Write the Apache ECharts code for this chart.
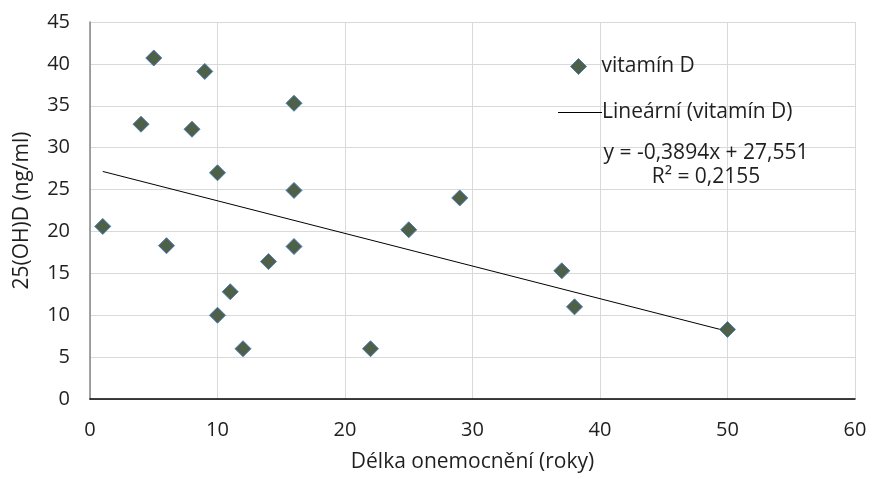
<!DOCTYPE html>
<html><head><meta charset="utf-8">
<script src="https://cdn.jsdelivr.net/npm/echarts@6/dist/echarts.min.js"></script>
<style>html,body{margin:0;padding:0;background:#fff}#c{width:872px;height:479px}</style>
</head><body><div id="c"></div>
<script>
const durationYears = [1, 4, 5, 6, 8, 9, 10, 10, 11, 12, 14, 16, 16, 16, 22, 25, 29, 37, 38, 50];
const vitaminD = [20.6, 32.8, 40.7, 18.3, 32.2, 39.1, 27.0, 10.0, 12.8, 6.0, 16.4, 35.3, 24.9, 18.2, 6.0, 20.2, 24.0, 15.3, 11.0, 8.3];
const trendSlope = -0.3894;
const trendIntercept = 27.551;
const trendR2 = '0,2155';
const trendXRange = [1, 50];
const xTicks = [0, 10, 20, 30, 40, 50, 60];
const yTicks = [0, 5, 10, 15, 20, 25, 30, 35, 40, 45];

const font = '"Open Sans", sans-serif';
const fs = 20;
const fsT = 21;
const txt = '#1f1f1f';
const scatterData = durationYears.map((x, i) => [x, vitaminD[i]]);
const trendData = trendXRange.map(x => [x, trendSlope * x + trendIntercept]);

const chart = echarts.init(document.getElementById('c'));
chart.setOption({
  animation: false,
  backgroundColor: '#fff',
  grid: {left: 90, right: 17, top: 22, bottom: 80},
  xAxis: {
    type: 'value', min: xTicks[0], max: xTicks[xTicks.length - 1], interval: 10,
    name: 'Délka onemocnění (roky)', nameLocation: 'middle', nameGap: 53,
    nameTextStyle: {fontFamily: font, fontSize: fsT, color: txt},
    axisLine: {show: true, onZero: false, lineStyle: {color: '#000', width: 1.5}},
    axisTick: {show: false},
    axisLabel: {fontFamily: font, fontSize: fs, color: txt, margin: 21},
    splitLine: {show: true, lineStyle: {color: '#d9d9d9', width: 1}}
  },
  yAxis: {
    type: 'value', min: yTicks[0], max: yTicks[yTicks.length - 1], interval: 5,
    name: '25(OH)D (ng/ml)', nameLocation: 'middle', nameGap: 57,
    nameTextStyle: {fontFamily: font, fontSize: fsT, color: txt},
    axisLine: {show: true, lineStyle: {color: '#868686', width: 1.5}},
    axisTick: {show: false},
    axisLabel: {fontFamily: font, fontSize: fs, color: txt, margin: 20},
    splitLine: {show: true, lineStyle: {color: '#d9d9d9', width: 1}}
  },
  legend: [
    {data: [{name: 'vitamín D', icon: 'diamond', itemStyle: {color: '#4f6048', borderColor: '#4a7ebb', borderWidth: 1, opacity: 1}}],
     left: 565, top: 51, orient: 'vertical',
     itemWidth: 16, itemHeight: 16, textStyle: {fontFamily: font, fontSize: fsT, color: txt, padding: [0, 0, 0, 10]}},
    {data: [{name: 'Lineární (vitamín D)', icon: 'rect', itemStyle: {color: '#000'}}], left: 553, top: 97, orient: 'vertical',
     itemWidth: 44, itemHeight: 1, textStyle: {fontFamily: font, fontSize: fsT, color: txt, padding: [0, 0, 0, -5]}}
  ],
  graphic: [
    {type: 'text', x: 706, y: 153, z: 10, style: {text: 'y = -0,3894x + 27,551', font: fsT + 'px ' + font, fill: txt, align: 'center', verticalAlign: 'middle'}},
    {type: 'text', x: 706, y: 177, z: 10, style: {text: 'R² = ' + trendR2, font: fsT + 'px ' + font, fill: txt, align: 'center', verticalAlign: 'middle'}}
  ],
  series: [
    {name: 'vitamín D', type: 'scatter', data: scatterData, symbol: 'diamond', symbolSize: 16,
     itemStyle: {color: '#4f6048', borderColor: '#4a7ebb', borderWidth: 1, opacity: 1}, z: 3},
    {name: 'Lineární (vitamín D)', type: 'line', data: trendData, symbol: 'none',
     lineStyle: {color: '#000', width: 1}, itemStyle: {color: '#000'}, z: 2}
  ]
});
</script></body></html>
